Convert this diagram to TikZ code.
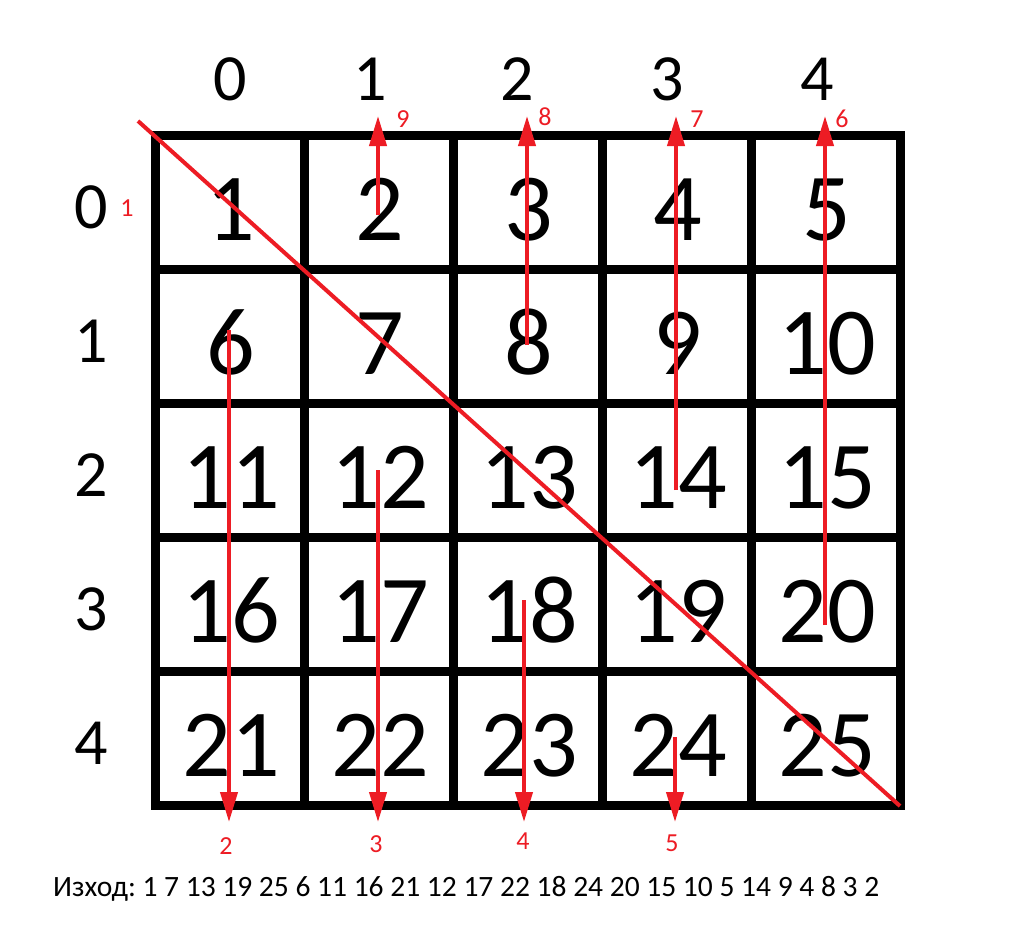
\documentclass[tikz,border=0pt]{standalone}
\usepackage{fontspec}
\setmainfont{Carlito}
\usetikzlibrary{arrows.meta,positioning}
\definecolor{paintred}{RGB}{237,28,36}
\frenchspacing

\begin{document}
\begin{tikzpicture}[x=1pt, y=-1pt,
    gridline/.style={line width=9pt, line cap=rect},
    cellnum/.style={anchor=base, inner sep=0pt, font=\fontsize{96}{96}\selectfont},
    axisnum/.style={anchor=base, inner sep=0pt, font=\fontsize{66}{66}\selectfont},
    rednum/.style={anchor=base, inner sep=0pt, text=paintred, font=\fontsize{26}{26}\selectfont},
    redarrow/.style={-{Triangle[width=17pt, length=30pt]}, line width=4pt, paintred}
]
    \useasboundingbox (0,0) rectangle (1024,938);
    \fill[white] (0,0) rectangle (1024,938);

    % Grid
    \foreach \i in {0,...,5} {
        \draw[gridline] (155+149*\i, 135) -- (155+149*\i, 805);
        \draw[gridline] (155, 135+134*\i) -- (900, 135+134*\i);
    }

    % Cell numbers
    \foreach \r in {0,...,4} {
        \foreach \c in {0,...,4} {
            \pgfmathtruncatemacro{\n}{5*\r+\c+1}
            \node[cellnum] (c\n) at (231+149*\c, 240+134*\r) {\n};
        }
    }

    % Column and row labels
    \node[axisnum] (col0) at (230, 100) {0};
    \node[axisnum] (col1) at (370, 100) {1};
    \node[axisnum] (col2) at (517, 100) {2};
    \node[axisnum] (col3) at (667, 100) {3};
    \node[axisnum] (col4) at (817, 100) {4};
    \foreach \r in {0,...,4}
        \node[axisnum] (row\r) at (91, 228+134*\r) {\r};

    % Diagonal
    \coordinate (dstart) at (138, 121);
    \coordinate (dend) at (900, 806);
    \draw[line width=4pt, paintred] (dstart) -- (dend);
    \node[rednum] (o1) at (127, 216) {1};

    % Up arrows
    \coordinate (u1s) at (378, 215); \coordinate (u1e) at (378, 116);
    \coordinate (u2s) at (527, 345); \coordinate (u2e) at (527, 116);
    \coordinate (u3s) at (676, 490); \coordinate (u3e) at (676, 116);
    \coordinate (u4s) at (825, 625); \coordinate (u4e) at (825, 116);
    \draw[redarrow] (u1s) -- (u1e);
    \draw[redarrow] (u2s) -- (u2e);
    \draw[redarrow] (u3s) -- (u3e);
    \draw[redarrow] (u4s) -- (u4e);
    \node[rednum] (o9) at (403, 127) {9};
    \node[rednum] (o8) at (545, 125) {8};
    \node[rednum] (o7) at (697, 127) {7};
    \node[rednum] (o6) at (842, 127) {6};

    % Down arrows
    \coordinate (d1s) at (229, 330); \coordinate (d1e) at (229, 822);
    \coordinate (d2s) at (378, 470); \coordinate (d2e) at (378, 822);
    \coordinate (d3s) at (524, 600); \coordinate (d3e) at (524, 822);
    \coordinate (d4s) at (675, 737); \coordinate (d4e) at (675, 822);
    \draw[redarrow] (d1s) -- (d1e);
    \draw[redarrow] (d2s) -- (d2e);
    \draw[redarrow] (d3s) -- (d3e);
    \draw[redarrow] (d4s) -- (d4e);
    \node[rednum] (o2) at (226, 854) {2};
    \node[rednum] (o3) at (376, 852) {3};
    \node[rednum] (o4) at (523, 849) {4};
    \node[rednum] (o5) at (672, 851) {5};

    % Result
    \node[anchor=base west, inner sep=0pt, font=\fontsize{29.5}{29.5}\selectfont] (result) at (53, 896)
        {Изход: 1 7 13 19 25 6 11 16 21 12 17 22 18 24 20 15 10 5 14 9 4 8 3 2};
\end{tikzpicture}
\end{document}
